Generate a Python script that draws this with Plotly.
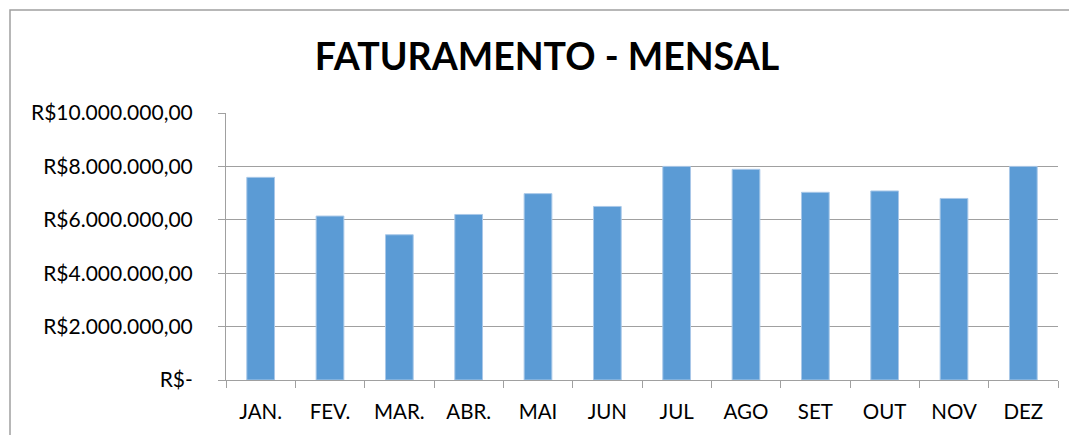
import plotly.graph_objects as go

months = ["JAN.", "FEV.", "MAR.", "ABR.", "MAI", "JUN", "JUL", "AGO", "SET", "OUT", "NOV", "DEZ"]
revenue = [7590000, 6140000, 5440000, 6200000, 6980000, 6500000,
           8000000, 7890000, 7030000, 7080000, 6800000, 8000000]
y_tick_values = [0, 2000000, 4000000, 6000000, 8000000, 10000000]
y_tick_labels = ["R$-", "R$2.000.000,00", "R$4.000.000,00", "R$6.000.000,00",
                 "R$8.000.000,00", "R$10.000.000,00"]

W, H = 1069, 435
L, R, T, B = 226, 11, 113, 55
pw, ph = W - L - R, H - T - B

fig = go.Figure(go.Bar(x=months, y=revenue, marker_color="#5B9BD5",
                       marker_line=dict(color="#A9C8E8", width=1)))

font = "Lato, 'Open Sans', sans-serif"
fig.update_layout(
    width=W, height=H,
    margin=dict(l=L, r=R, t=T, b=B),
    paper_bgcolor="white", plot_bgcolor="white",
    bargap=0.6,
    showlegend=False,
    title=dict(text="<b>FATURAMENTO - MENSAL</b>", font=dict(family=font, size=37.5, color="black"),
               x=547 / W, xanchor="center", xref="container",
               y=1 - 57 / H, yanchor="middle", yref="container"),
    font=dict(family=font, color="black"),
    xaxis=dict(showline=True, linecolor="#A0A0A0", linewidth=1,
               ticks="outside", tickson="boundaries", ticklen=7, tickcolor="#A0A0A0",
               tickfont=dict(size=20.5, color="black"), ticklabelstandoff=13,
               showgrid=False),
    yaxis=dict(range=[0, 10000000], tickvals=y_tick_values, ticktext=y_tick_labels,
               showline=True, linecolor="#A0A0A0", linewidth=1,
               ticks="outside", ticklen=7, tickcolor="#A0A0A0",
               tickfont=dict(size=21, color="black"), ticklabelstandoff=21,
               showgrid=True, gridcolor="#A0A0A0", gridwidth=1, zeroline=False),
    shapes=[dict(type="rect", xref="paper", yref="paper",
                 x0=(10 - L) / pw, x1=(W + 20 - L) / pw,
                 y0=(H - B - (H + 20)) / ph, y1=(H - B - 10) / ph,
                 line=dict(color="#A0A0A0", width=1.5), fillcolor="rgba(0,0,0,0)",
                 layer="below")],
)

fig.write_html("out.html", config={"displayModeBar": False},
               post_script="document.body.style.margin='0';document.body.style.overflow='hidden';")
